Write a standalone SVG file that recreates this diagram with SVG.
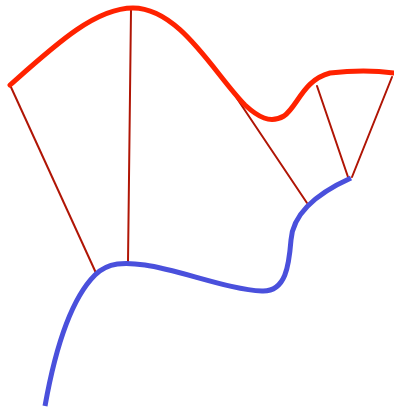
<svg xmlns="http://www.w3.org/2000/svg" width="394" height="408" viewBox="0 0 394 408">
<style>
.rule{stroke:#b01505;stroke-width:2;fill:none;stroke-linecap:round}
.top{stroke:#ff2200;stroke-width:5;fill:none;stroke-linecap:round}
.bot{stroke:#4a50dc;stroke-width:5;fill:none;stroke-linecap:butt}
</style>
<rect width="394" height="408" fill="#fff"/>
<g id="connectors">
<line class="rule" x1="10" y1="85" x2="96" y2="273"/>
<line class="rule" x1="131" y1="10" x2="128" y2="262"/>
<line class="rule" x1="236" y1="97" x2="307" y2="203"/>
<line class="rule" x1="317" y1="86" x2="348" y2="177"/>
<line class="rule" x1="392" y1="77" x2="352" y2="177"/>
</g>
<g id="top-curve">
<path class="top" d="M10,85 C55,45 95,8 133,8 C180,8 215,75 245,105 C258,117 270,124 284,116 C298,106 303,80 330,73 C355,70 380,71 394,73"/>
</g>
<g id="bottom-curve">
<path class="bot" d="M45,406 C55,350 70,300 95,275 C108,262 125,262 145,265 C180,270 230,290 262,291 C286,292 289,265 291,240 C293,212 320,192 351,178"/>
</g>
</svg>
